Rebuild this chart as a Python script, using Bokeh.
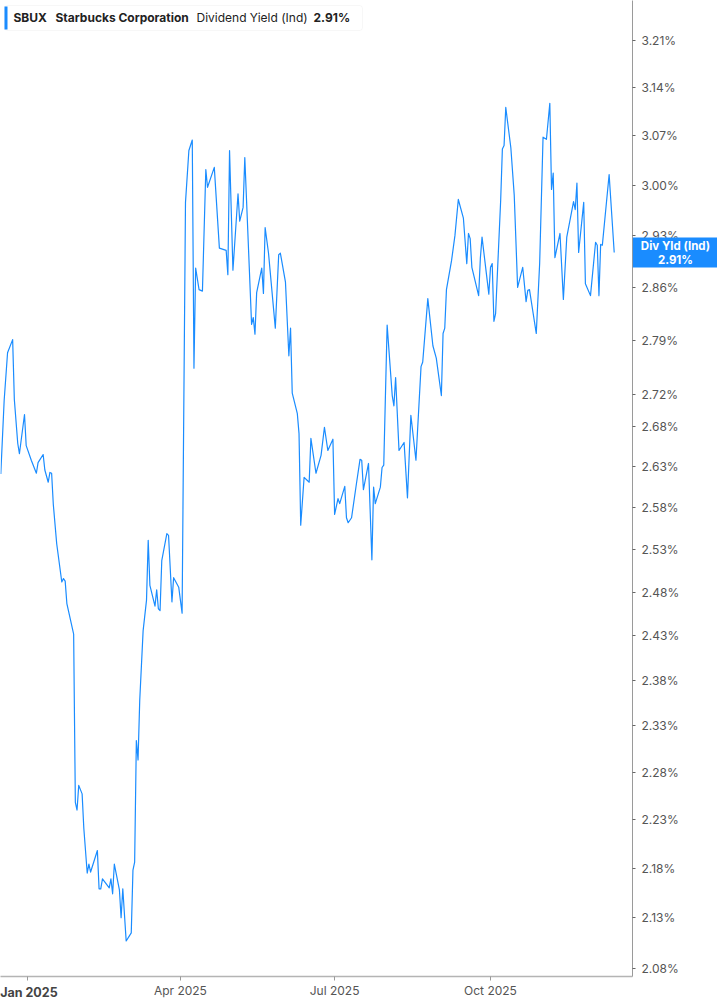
import pandas as pd
from bokeh.plotting import figure
from bokeh.models import (Range1d, FixedTicker, PrintfTickFormatter, Label,
                          BoxAnnotation, ColumnDataSource)
from bokeh.core.properties import value
from bokeh.embed import file_html
from bokeh.resources import INLINE

# ---------------- data ----------------
dates = [
    "2024-12-16", "2024-12-18", "2024-12-20", "2024-12-23", "2024-12-24", "2024-12-26",
    "2024-12-27", "2024-12-30", "2024-12-31", "2025-01-03", "2025-01-06", "2025-01-07",
    "2025-01-10", "2025-01-11", "2025-01-13", "2025-01-14", "2025-01-15", "2025-01-16",
    "2025-01-18", "2025-01-21", "2025-01-22", "2025-01-23", "2025-01-24", "2025-01-28",
    "2025-01-29", "2025-01-30", "2025-01-31", "2025-02-02", "2025-02-03", "2025-02-05",
    "2025-02-06", "2025-02-07", "2025-02-11", "2025-02-12", "2025-02-13", "2025-02-14",
    "2025-02-18", "2025-02-19", "2025-02-20", "2025-02-21", "2025-02-24", "2025-02-25",
    "2025-02-26", "2025-02-28", "2025-03-03", "2025-03-04", "2025-03-05", "2025-03-06",
    "2025-03-07", "2025-03-08", "2025-03-10", "2025-03-12", "2025-03-13", "2025-03-14",
    "2025-03-17", "2025-03-18", "2025-03-19", "2025-03-20", "2025-03-21", "2025-03-24",
    "2025-03-25", "2025-03-27", "2025-03-28", "2025-03-31", "2025-04-02", "2025-04-04",
    "2025-04-06", "2025-04-08", "2025-04-09", "2025-04-10", "2025-04-12", "2025-04-14",
    "2025-04-16", "2025-04-17", "2025-04-21", "2025-04-24", "2025-04-28", "2025-04-29",
    "2025-04-30", "2025-05-02", "2025-05-05", "2025-05-06", "2025-05-08", "2025-05-09",
    "2025-05-13", "2025-05-14", "2025-05-15", "2025-05-16", "2025-05-19", "2025-05-20",
    "2025-05-21", "2025-05-23", "2025-05-27", "2025-05-29", "2025-05-30", "2025-06-02",
    "2025-06-04", "2025-06-05", "2025-06-06", "2025-06-09", "2025-06-10", "2025-06-11",
    "2025-06-13", "2025-06-16", "2025-06-17", "2025-06-20", "2025-06-23", "2025-06-25",
    "2025-06-27", "2025-06-30", "2025-07-01", "2025-07-03", "2025-07-04", "2025-07-07",
    "2025-07-08", "2025-07-09", "2025-07-11", "2025-07-14", "2025-07-16", "2025-07-17",
    "2025-07-18", "2025-07-21", "2025-07-23", "2025-07-24", "2025-07-25", "2025-07-28",
    "2025-07-29", "2025-07-30", "2025-08-01", "2025-08-04", "2025-08-05", "2025-08-06",
    "2025-08-08", "2025-08-11", "2025-08-13", "2025-08-15", "2025-08-18", "2025-08-21",
    "2025-08-22", "2025-08-25", "2025-08-28", "2025-08-30", "2025-09-02", "2025-09-03",
    "2025-09-04", "2025-09-05", "2025-09-08", "2025-09-10", "2025-09-12", "2025-09-15",
    "2025-09-17", "2025-09-18", "2025-09-19", "2025-09-20", "2025-09-24", "2025-09-25",
    "2025-09-26", "2025-09-30", "2025-10-01", "2025-10-02", "2025-10-03", "2025-10-04",
    "2025-10-07", "2025-10-08", "2025-10-09", "2025-10-10", "2025-10-13", "2025-10-15",
    "2025-10-17", "2025-10-20", "2025-10-22", "2025-10-23", "2025-10-24", "2025-10-28",
    "2025-10-30", "2025-11-01", "2025-11-03", "2025-11-05", "2025-11-06", "2025-11-07",
    "2025-11-08", "2025-11-11", "2025-11-13", "2025-11-15", "2025-11-19", "2025-11-20",
    "2025-11-21", "2025-11-22", "2025-11-25", "2025-11-26", "2025-11-29", "2025-12-02",
    "2025-12-03", "2025-12-04", "2025-12-05", "2025-12-06", "2025-12-10", "2025-12-13",
]

div_yield = [
    2.621, 2.713, 2.774, 2.791, 2.714, 2.659,
    2.646, 2.695, 2.656, 2.638, 2.622, 2.635,
    2.645, 2.626, 2.611, 2.623, 2.622, 2.584,
    2.537, 2.492, 2.496, 2.493, 2.467, 2.432,
    2.248, 2.240, 2.266, 2.257, 2.221, 2.175,
    2.184, 2.176, 2.198, 2.159, 2.159, 2.169,
    2.160, 2.169, 2.154, 2.184, 2.158, 2.130,
    2.159, 2.107, 2.115, 2.178, 2.186, 2.314,
    2.293, 2.358, 2.436, 2.471, 2.541, 2.488,
    2.464, 2.483, 2.461, 2.459, 2.517, 2.549,
    2.547, 2.469, 2.497, 2.486, 2.456, 2.976,
    3.049, 3.064, 2.754, 2.886, 2.857, 2.855,
    3.022, 2.997, 3.025, 2.913, 2.910, 2.877,
    3.049, 2.883, 2.988, 2.950, 2.969, 3.039,
    2.811, 2.820, 2.798, 2.853, 2.886, 2.852,
    2.941, 2.906, 2.806, 2.904, 2.906, 2.867,
    2.770, 2.806, 2.722, 2.696, 2.671, 2.559,
    2.617, 2.611, 2.665, 2.622, 2.644, 2.679,
    2.650, 2.664, 2.572, 2.591, 2.585, 2.606,
    2.568, 2.562, 2.568, 2.611, 2.639, 2.638,
    2.602, 2.634, 2.518, 2.605, 2.585, 2.605,
    2.629, 2.632, 2.810, 2.719, 2.706, 2.742,
    2.650, 2.660, 2.592, 2.694, 2.638, 2.756,
    2.762, 2.845, 2.783, 2.767, 2.719, 2.799,
    2.806, 2.857, 2.896, 2.930, 2.980, 2.954,
    2.892, 2.933, 2.926, 2.887, 2.849, 2.899,
    2.928, 2.851, 2.887, 2.892, 2.815, 2.825,
    2.979, 3.051, 3.056, 3.111, 3.053, 2.986,
    2.860, 2.887, 2.841, 2.856, 2.857, 2.799,
    2.892, 3.068, 3.065, 3.117, 2.994, 3.017,
    2.900, 2.933, 2.844, 2.928, 2.977, 2.966,
    3.003, 2.907, 2.976, 2.865, 2.849, 2.921,
    2.917, 2.849, 2.918, 2.917, 3.015, 2.907,
]

y_ticks = [3.21, 3.14, 3.07, 3.00, 2.93, 2.86, 2.79, 2.72, 2.68, 2.63, 2.58,
           2.53, 2.48, 2.43, 2.38, 2.33, 2.28, 2.23, 2.18, 2.13, 2.08]
x_tick_dates = ["2025-01-01", "2025-04-01", "2025-07-01", "2025-10-01"]
x_tick_labels = ["Jan 2025", "Apr 2025", "Jul 2025", "Oct 2025"]

ticker_symbol = "SBUX"
company = "Starbucks Corporation"
metric = "Dividend Yield (Ind)"
short_metric = "Div Yld (Ind)"

# ---------------- styling ----------------
BLUE = "#1a8cff"
FONT = "Inter"
FRAME_H = 976

x_start = pd.Timestamp("2024-12-15 20:00")
x_end = pd.Timestamp("2025-12-23 19:00")
y_start, y_end = 2.0723, 3.2705

src = ColumnDataSource(dict(date=pd.to_datetime(dates), val=div_yield))

p = figure(width=717, height=1005, x_axis_type="datetime", y_axis_type="log",
           y_axis_location="right",
           x_range=Range1d(x_start, x_end), y_range=Range1d(y_start, y_end),
           output_backend="svg", toolbar_location=None,
           min_border_left=0, min_border_top=0, min_border_right=85, min_border_bottom=29)
p.outline_line_color = None
p.grid.visible = False
p.background_fill_color = "white"
p.border_fill_color = "white"

p.line("date", "val", source=src, line_color=BLUE, line_width=1.2, line_join="round")

# y axis (right)
ya = p.yaxis[0]
ya.ticker = FixedTicker(ticks=y_ticks, minor_ticks=[])
ya.formatter = PrintfTickFormatter(format="%.2f%%")
ya.axis_line_color = "#9a9a9a"
ya.axis_line_width = 1
ya.major_tick_line_color = "#666666"
ya.major_tick_out = 3
ya.major_tick_in = 0
ya.minor_tick_line_color = None
ya.major_label_standoff = 6
ya.major_label_text_font = FONT
ya.major_label_text_font_size = "12px"
ya.major_label_text_color = "#555555"

# x axis (bottom)
tick_ms = [pd.Timestamp(d).timestamp() * 1000 for d in x_tick_dates]
xa = p.xaxis[0]
xa.ticker = FixedTicker(ticks=tick_ms, minor_ticks=[])
overrides = {t: lab for t, lab in zip(tick_ms, x_tick_labels)}
overrides[tick_ms[0]] = ""
xa.major_label_overrides = overrides
xa.axis_line_color = "#b4b4b4"
xa.axis_line_width = 1.5
xa.major_tick_line_color = "#9a9a9a"
xa.major_tick_out = 4
xa.major_tick_in = 0
xa.minor_tick_line_color = None
xa.major_label_standoff = 2
xa.major_label_text_font = FONT
xa.major_label_text_font_size = "12px"
xa.major_label_text_color = "#555555"

# bold first (year) label, drawn at overlay level so it is not clipped to the frame
p.text(x=[pd.Timestamp(x_tick_dates[0])], y=[y_start], text=[x_tick_labels[0]],
       x_offset=1, y_offset=16, text_font=value(FONT), text_font_size="12.5px",
       text_font_style="bold", text_color="#444444",
       text_align="center", text_baseline="middle", level="overlay")

# last value marker box on the right axis
last = div_yield[-1]
p.text(x=[x_end], y=[last], text=[f"{short_metric}\n{last:.2f}%"], x_offset=43,
       y_offset=0,
       text_font=value(FONT), text_font_size="11.5px", text_font_style="bold",
       text_color="white", text_align="center", text_baseline="middle",
       text_line_height=1.0, background_fill_color=BLUE,
       padding=[8, 8, 1, 1], level="overlay")

# legend box top-left
p.add_layout(BoxAnnotation(left=4, right=362, top=FRAME_H - 5, bottom=FRAME_H - 30,
                           left_units="screen", right_units="screen",
                           top_units="screen", bottom_units="screen",
                           fill_color="white", fill_alpha=1.0,
                           line_color="#e4e4e4", line_width=1, border_radius=3))
p.add_layout(BoxAnnotation(left=4, right=7, top=FRAME_H - 6, bottom=FRAME_H - 29,
                           left_units="screen", right_units="screen",
                           top_units="screen", bottom_units="screen",
                           fill_color=BLUE, fill_alpha=1.0, line_color=None))

legend_parts = [
    (13, ticker_symbol, "bold"),
    (55, company, "bold"),
    (196, metric, "normal"),
    (313, f"{last:.2f}%", "bold"),
]
for lx, txt, style in legend_parts:
    p.add_layout(Label(x=lx, y=FRAME_H - 17, x_units="screen", y_units="screen",
                       text=txt, text_font=FONT, text_font_size="12px",
                       text_font_style=style, text_color="#222222",
                       text_align="left", text_baseline="middle"))

open("out.html", "w").write(file_html(p, INLINE))
